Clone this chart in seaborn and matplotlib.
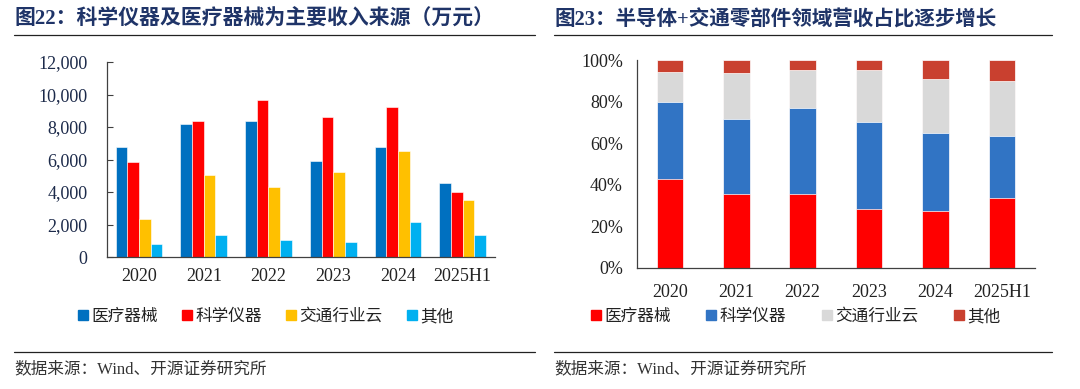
import numpy as np
import pandas as pd
import matplotlib
matplotlib.use('Agg')
import matplotlib.pyplot as plt
from matplotlib.lines import Line2D
from matplotlib.ticker import FuncFormatter
import seaborn as sns

# categories
years = ['2020', '2021', '2022', '2023', '2024', '2025H1']
segments = ['医疗器械', '科学仪器', '交通行业云', '其他']

rev_medical = [6790, 8190, 8350, 5930, 6770, 4530]
rev_science = [5860, 8350, 9650, 8640, 9260, 3970]
rev_traffic = [2330, 5020, 4320, 5210, 6500, 3520]
rev_other = [820, 1360, 1030, 900, 2140, 1340]

share_medical = [42.8, 35.7, 35.7, 28.5, 27.3, 33.8]
share_science = [36.9, 36.2, 41.3, 41.8, 37.5, 29.5]
share_traffic = [14.8, 22.0, 18.5, 25.2, 26.4, 26.6]
share_other = [5.5, 6.1, 4.5, 4.5, 8.8, 10.1]

left_colors = ['#0070C0', '#FF0000', '#FFC000', '#00B0F0']
right_colors = ['#FF0000', '#3174C4', '#D9D9D9', '#C9402F']

sns.set_style('white')
plt.rcParams['font.family'] = ['Liberation Serif', 'Noto Sans CJK SC']
plt.rcParams['axes.unicode_minus'] = False

title_color = '#1F3468'
axis_color = '#404040'
text_color = '#222222'

fig = plt.figure(figsize=(10.8, 3.89), dpi=100)

# ---------------- left chart: grouped bars ----------------
df = pd.DataFrame({
    'year': years * 4,
    'segment': [s for s in segments for _ in years],
    'value': rev_medical + rev_science + rev_traffic + rev_other,
})

ax1 = fig.add_axes([106.7 / 1080, 1 - 257 / 389, 388.3 / 1080, 195 / 389])
sns.barplot(data=df, x='year', y='value', hue='segment', hue_order=segments,
            palette=dict(zip(segments, left_colors)), width=0.72, saturation=1,
            edgecolor='white', linewidth=0.4, ax=ax1, legend=False)
ax1.set_ylim(0, 12000)
ax1.set_xlim(-0.5, 5.5)
ax1.set_yticks(range(0, 12001, 2000))
ax1.yaxis.set_major_formatter(FuncFormatter(lambda v, p: f'{int(v):,}'))
ax1.set_xlabel('')
ax1.set_ylabel('')
ax1.set_xticks(np.arange(6))
ax1.set_xticks(np.arange(-0.5, 6, 1), minor=True)
ax1.tick_params(axis='x', which='major', length=0, pad=8, labelsize=13, labelcolor=text_color)
ax1.tick_params(axis='x', which='minor', direction='in', length=4, width=0.8, color=axis_color)
ax1.tick_params(axis='y', direction='in', length=4, width=0.8, color=axis_color,
                pad=14, labelsize=13, labelcolor='#1c2a4a', left=True)
for s in ['top', 'right']:
    ax1.spines[s].set_visible(False)
for s in ['left', 'bottom']:
    ax1.spines[s].set_color(axis_color)
    ax1.spines[s].set_linewidth(0.9)

# ---------------- right chart: 100% stacked bars ----------------
ax2 = fig.add_axes([636.7 / 1080, 1 - 267.7 / 389, 398.3 / 1080, 207.4 / 389])
layers = [share_medical, share_science, share_traffic, share_other]
cum = np.cumsum(np.array(layers), axis=0)
# draw tallest cumulative first so lower segments sit on top
for i in range(3, -1, -1):
    sns.barplot(x=years, y=cum[i], color=right_colors[i], width=0.4,
                edgecolor='white', linewidth=0.5, saturation=1, ax=ax2)
ax2.set_ylim(0, 100)
ax2.set_xlim(-0.5, 5.5)
ax2.set_yticks(range(0, 101, 20))
ax2.yaxis.set_major_formatter(FuncFormatter(lambda v, p: f'{int(v)}%'))
ax2.set_xticks(np.arange(6))
ax2.set_xticks(np.arange(-0.5, 6, 1), minor=True)
ax2.tick_params(axis='x', which='major', length=0, pad=12, labelsize=13, labelcolor=text_color)
ax2.tick_params(axis='x', which='minor', direction='in', length=4, width=0.8, color=axis_color)
ax2.tick_params(axis='y', direction='in', length=0, pad=10, labelsize=13, labelcolor=text_color)
for s in ['top', 'right']:
    ax2.spines[s].set_visible(False)
for s in ['left', 'bottom']:
    ax2.spines[s].set_color(axis_color)
    ax2.spines[s].set_linewidth(0.9)

# ---------------- titles, legends, sources ----------------
fig.text(14 / 1080, 1 - 20 / 389, '图22：科学仪器及医疗器械为主要收入来源（万元）',
         fontsize=15, fontweight='bold', color=title_color, va='center', ha='left')
fig.text(554 / 1080, 1 - 20 / 389, '图23：半导体+交通零部件领域营收占比逐步增长',
         fontsize=14.8, fontweight='bold', color=title_color, va='center', ha='left')

for x0, x1 in [(14, 535), (554, 1052)]:
    fig.add_artist(Line2D([x0 / 1080, x1 / 1080], [1 - 35 / 389] * 2, color='#222222', lw=0.9))
    fig.add_artist(Line2D([x0 / 1080, x1 / 1080], [1 - 352 / 389] * 2, color='#222222', lw=0.9))

for x in [14, 554]:
    fig.text(x / 1080, 1 - 369 / 389, '数据来源：Wind、开源证券研究所',
             fontsize=12, color='#333333', va='center', ha='left')


def make_handles(colors):
    return [Line2D([0], [0], marker='s', linestyle='', markersize=7.5,
                   markerfacecolor=c, markeredgecolor=c) for c in colors]


fig.legend(make_handles(left_colors), segments, loc='center',
           bbox_to_anchor=(265 / 1080, 1 - 317 / 389), ncol=4, frameon=False,
           fontsize=12, handletextpad=0.1, columnspacing=1.35, handlelength=0.8,
           labelcolor=text_color)
fig.legend(make_handles(right_colors), segments, loc='center',
           bbox_to_anchor=(795 / 1080, 1 - 317 / 389), ncol=4, frameon=False,
           fontsize=12, handletextpad=0.1, columnspacing=2.05, handlelength=0.8,
           labelcolor=text_color)

fig.savefig('out.png', dpi=100)
